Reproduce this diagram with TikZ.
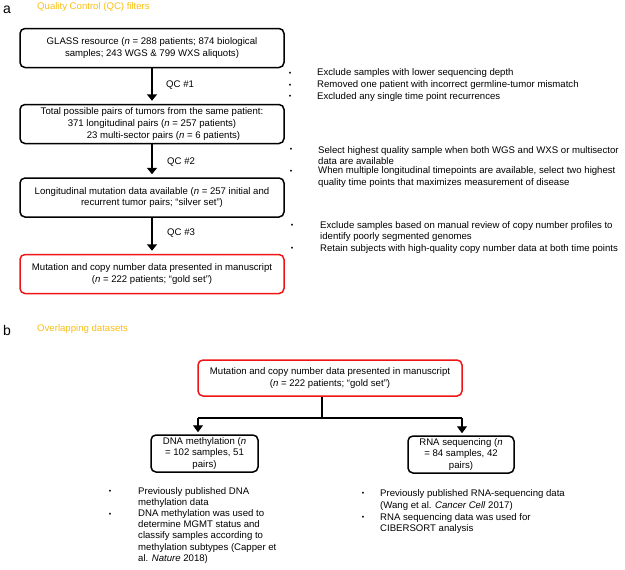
\documentclass[tikz,border=0pt]{standalone}
\usepackage{fontspec}
\setmainfont{Liberation Sans}
\usetikzlibrary{arrows.meta,calc}
\definecolor{qcgold}{RGB}{250,190,20}
\definecolor{goldred}{RGB}{240,20,20}
\begin{document}
\begin{tikzpicture}[x=1pt,y=-1pt,
  every node/.style={font=\fontsize{9.6}{11.3}\selectfont, inner sep=0pt},
  flowbox/.style={draw=black, line width=1.5pt, rounded corners=5pt, minimum width=264pt, minimum height=39pt, align=center},
  goldbox/.style={flowbox, draw=goldred},
  smallbox/.style={draw=black, line width=1.5pt, rounded corners=5pt, minimum height=37pt, align=center},
  qcarrow/.style={line width=1.8pt, -{Triangle[width=10pt,length=6.5pt]}, shorten >=3pt},
  conn/.style={line width=1.2pt},
  connarrow/.style={line width=1.2pt, -{Triangle[width=10pt,length=7pt]}, shorten >=2pt},
  panellabel/.style={anchor=west, font=\fontsize{14}{16}\selectfont},
  paneltitle/.style={anchor=west, text=qcgold},
  qclabel/.style={anchor=west},
  bul/.style={font=\fontsize{7}{8}\selectfont},
  btxt/.style={anchor=west, align=left}
]
\useasboundingbox (0,0) rectangle (625,570);

% ---------- panel a ----------
\node[panellabel] (la) at (3,9.5) {a};
\node[paneltitle] (ta) at (37,7.5) {Quality Control (QC) filters};

\node[flowbox] (b1) at (152,48) {GLASS resource (\textit{n} = 288 patients; 874 biological\\samples; 243 WGS \& 799 WXS aliquots)};
\node[flowbox] (b2) at (152,124) {Total possible pairs of tumors from the same patient:\\[0.8pt]371 longitudinal pairs (\textit{n} = 257 patients)\\[0.8pt]\hspace*{23pt}23 multi-sector pairs (\textit{n} = 6 patients)};
\node[flowbox] (b3) at (152,197.5) {Longitudinal mutation data available (\textit{n} = 257 initial and\\recurrent tumor pairs; “silver set”)};
\node[goldbox] (b4) at (152,274) {Mutation and copy number data presented in manuscript\\(\textit{n} = 222 patients; “gold set”)};

\draw[qcarrow] (b1) -- (b2);
\draw[qcarrow] (b2) -- (b3);
\draw[qcarrow] (b3) -- (b4);
\node[qclabel] (q1) at (166,85) {QC \#1};
\node[qclabel] (q2) at (167,162) {QC \#2};
\node[qclabel] (q3) at (167,233) {QC \#3};

\node[bul] (d11) at (290,73.5) {•};
\node[btxt] (t11) at (317,73.5) {Exclude samples with lower sequencing depth};
\node[bul] (d12) at (290,85.5) {•};
\node[btxt] (t12) at (317,85.5) {Removed one patient with incorrect germline-tumor mismatch};
\node[bul] (d13) at (290,97) {•};
\node[btxt] (t13) at (317,97) {Excluded any single time point recurrences};

\node[bul] (d21) at (291,150) {•};
\node[btxt] (t21) at (318,155.5) {Select highest quality sample when both WGS and WXS or multisector\\data are available};
\node[bul] (d22) at (291,171.5) {•};
\node[btxt] (t22) at (318,177) {When multiple longitudinal timepoints are available, select two highest\\quality time points that maximizes measurement of disease};

\node[bul] (d31) at (292,226) {•};
\node[btxt] (t31) at (320,231.5) {Exclude samples based on manual review of copy number profiles to\\identify poorly segmented genomes};
\node[bul] (d32) at (292,249) {•};
\node[btxt] (t32) at (320,249) {Retain subjects with high-quality copy number data at both time points};

% ---------- panel b ----------
\node[panellabel] (lb) at (3,330) {b};
\node[paneltitle] (tb) at (37,329) {Overlapping datasets};

\node[goldbox, minimum height=36pt] (g2) at (330,378) {Mutation and copy number data presented in manuscript\\(\textit{n} = 222 patients; “gold set”)};
\node[smallbox, minimum width=107pt] (dna) at (204.5,453.5) {DNA methylation (\textit{n}\\= 102 samples, 51\\pairs)};
\node[smallbox, minimum width=106pt] (rna) at (461,454.5) {RNA sequencing (\textit{n}\\= 84 samples, 42\\pairs)};

\coordinate (split) at (322,418);
\coordinate (lt) at (198,418);
\coordinate (rt) at (462,418);
\draw[conn] (g2.south -| split) -- (split);
\draw[conn] (lt) -- (rt);
\draw[connarrow] (lt) -- (lt |- dna.north);
\draw[connarrow] (rt) -- (rt |- rna.north);

\node[bul] (e11) at (110,492) {•};
\node[btxt] (u11) at (138,497.5) {Previously published DNA\\methylation data};
\node[bul] (e12) at (110,515) {•};
\node[btxt] (u12) at (138,536.5) {DNA methylation was used to\\determine MGMT status and\\classify samples according to\\methylation subtypes (Capper et\\al. \textit{Nature} 2018)};

\node[bul] (e21) at (363,494) {•};
\node[btxt] (u21) at (380,500) {Previously published RNA-sequencing data\\(Wang et al. \textit{Cancer Cell} 2017)};
\node[bul] (e22) at (363,518) {•};
\node[btxt] (u22) at (380,523.5) {RNA sequencing data was used for\\CIBERSORT analysis};
\end{tikzpicture}
\end{document}
